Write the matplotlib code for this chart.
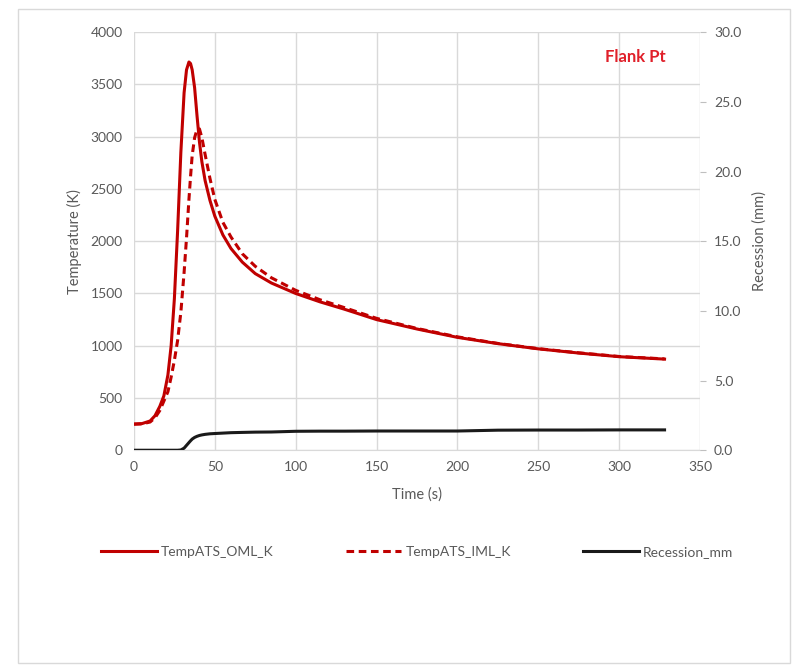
import matplotlib.pyplot as plt
from matplotlib.patches import Rectangle

# time (s) and the three series
time_s = [0, 5, 10, 13, 16, 18.5, 21, 23, 25, 27, 29, 31, 32.5, 34, 35, 36, 37.5, 39, 40.5, 42,
          44, 47, 50, 55, 60, 67, 75, 85, 100, 115, 130, 150, 175, 200, 225, 250, 275, 300, 328]
temp_oml = [250, 255, 280, 330, 420, 520, 720, 1000, 1450, 2100, 2850, 3420, 3640, 3715, 3700,
            3640, 3470, 3200, 2950, 2760, 2580, 2390, 2240, 2060, 1930, 1800, 1690, 1600, 1500,
            1420, 1350, 1250, 1160, 1080, 1020, 970, 930, 895, 872]
temp_iml = [250, 252, 270, 310, 380, 470, 560, 700, 860, 1050, 1320, 1700, 2030, 2400, 2620,
            2820, 2990, 3070, 3075, 2990, 2830, 2600, 2400, 2180, 2040, 1880, 1760, 1650, 1530,
            1440, 1365, 1262, 1165, 1085, 1022, 972, 932, 897, 874]
recession = [0, 0, 0, 0, 0, 0, 0, 0, 0, 0, 0.02, 0.15, 0.35, 0.55, 0.68, 0.8, 0.92, 1.0, 1.06, 1.1,
             1.14, 1.18, 1.2, 1.23, 1.26, 1.28, 1.3, 1.31, 1.36, 1.37, 1.37, 1.38, 1.38, 1.38, 1.44,
             1.45, 1.45, 1.46, 1.46]

grey = '#595959'
red = '#C00000'
plt.rcParams['font.family'] = ['Lato', 'DejaVu Sans']
plt.rcParams['font.size'] = 10

fig = plt.figure(figsize=(8.02, 6.71), dpi=100)
ax = fig.add_axes([0.167, 0.329, 0.706, 0.623])
ax2 = ax.twinx()

l1, = ax.plot(time_s, temp_oml, color=red, lw=2.2, label='TempATS_OML_K')
l2, = ax.plot(time_s, temp_iml, color=red, lw=2.2, ls=(0, (2.5, 1.5)), label='TempATS_IML_K')
l3, = ax2.plot(time_s, recession, color='#1a1a1a', lw=2.2, label='Recession_mm')

ax.set_xlim(0, 350)
ax.set_ylim(0, 4000)
ax.set_xticks(range(0, 351, 50))
ax.set_yticks(range(0, 4001, 500))
ax2.set_ylim(0, 30)
ax2.set_yticks([0, 5, 10, 15, 20, 25, 30])
ax2.set_yticklabels(['%.1f' % v for v in [0, 5, 10, 15, 20, 25, 30]])

ax.grid(True, color='#D9D9D9', lw=1)
ax.set_axisbelow(True)
for a in (ax, ax2):
    for s in a.spines.values():
        s.set_visible(False)
ax.spines['bottom'].set_visible(True)
ax.spines['bottom'].set_color('#D9D9D9')
ax.tick_params(length=0, colors=grey, labelsize=10, pad=8)
ax2.tick_params(length=4, color='#BFBFBF', colors=grey, labelsize=10, pad=6)

ax.set_xlabel('Time (s)', color=grey, fontsize=10.5, labelpad=10)
ax.set_ylabel('Temperature (K)', color=grey, fontsize=10.5, labelpad=6)
ax2.set_ylabel('Recession (mm)', color=grey, fontsize=10.5, labelpad=8)

ax.text(0.885, 0.94, 'Flank Pt', transform=ax.transAxes, color='#E0202A',
        fontsize=12, fontweight='bold', ha='center', va='center')

leg = fig.legend(handles=[l1, l2, l3], loc='center', bbox_to_anchor=(0.52, 0.177),
                 ncol=3, frameon=False, fontsize=10, handlelength=4, columnspacing=5.2,
                 handletextpad=0.3)
for t in leg.get_texts():
    t.set_color(grey)

fig.patches.append(Rectangle((0.022, 0.012), 0.963, 0.975, transform=fig.transFigure,
                             fill=False, edgecolor='#D9D9D9', lw=1))

fig.savefig('out.png', dpi=100)
